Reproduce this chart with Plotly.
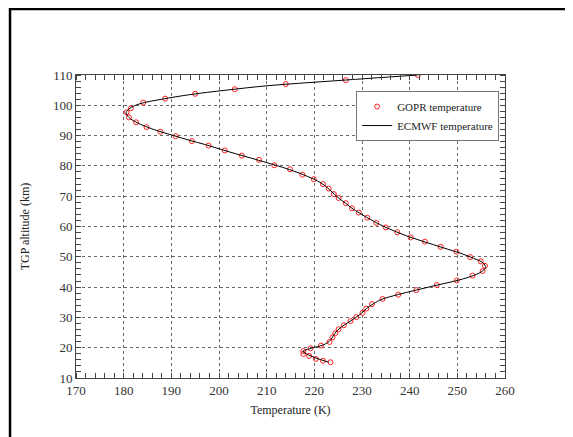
import plotly.graph_objects as go

# GOPR retrieved temperature profile
gopr_alt = [15.2, 15.7, 16.3, 17.3, 17.9, 18.9, 19.8, 20.7, 21.9, 23.4, 24.8, 26.1, 27.4, 28.8,
            30.1, 31.5, 32.9, 34.4, 36.1, 37.5, 39.0, 40.7, 42.2, 43.8, 45.3, 47.0, 48.5, 49.9,
            51.7, 53.3, 55.0, 56.4, 58.1, 59.7, 61.2, 62.9, 64.6, 66.0, 67.7, 69.4, 70.7, 72.5,
            74.0, 75.6, 77.1, 78.9, 80.2, 82.0, 83.4, 85.1, 86.7, 88.2, 89.8, 91.3, 92.8, 94.4,
            96.0, 97.7, 99.0, 100.9, 102.2, 103.8, 105.3, 107.0, 108.3, 110.0]
gopr_temp = [223.4, 221.8, 220.3, 218.9, 217.7, 217.7, 219.2, 221.4, 223.2, 223.8, 224.4, 225.1,
             226.2, 227.6, 228.8, 230.1, 230.9, 232.1, 234.3, 237.6, 241.4, 245.7, 249.9, 253.2,
             255.3, 255.8, 254.9, 252.7, 249.8, 246.5, 243.2, 240.2, 237.4, 235.0, 233.0, 231.1,
             229.3, 227.9, 226.6, 225.1, 224.1, 223.0, 221.8, 219.9, 217.5, 214.9, 211.6, 208.4,
             204.8, 201.2, 197.8, 194.3, 190.9, 187.7, 184.8, 182.6, 181.1, 180.6, 181.5, 184.1,
             188.7, 195.0, 203.3, 214.0, 226.6, 241.7]

# ECMWF temperature profile
ecmwf_alt = [15.2, 16.5, 18.0, 18.8, 19.8, 21.0, 22.5, 24.0, 25.5, 27.0, 28.5, 30.0, 31.5, 33.0,
             34.5, 36.0, 37.5, 39.0, 40.5, 42.0, 43.5, 45.0, 46.5, 48.0, 49.5, 51.0, 52.5, 54.0,
             55.5, 57.0, 58.5, 60.0, 61.5, 63.0, 64.5, 66.0, 67.5, 69.0, 70.5, 72.0, 73.5, 75.0,
             76.5, 78.0, 79.5, 81.0, 82.5, 84.0, 85.5, 87.0, 88.5, 90.0, 91.5, 93.0, 94.5, 96.0,
             97.5, 99.0, 100.5, 102.0, 103.5, 105.0, 106.5, 108.0, 110.0]
ecmwf_temp = [223.0, 220.5, 218.3, 217.6, 219.3, 222.0, 223.4, 224.0, 224.7, 225.8, 227.3, 228.7,
              230.0, 231.0, 232.4, 234.2, 237.5, 241.3, 245.3, 249.5, 252.8, 255.0, 255.9, 255.4,
              253.4, 251.0, 248.0, 245.0, 242.0, 239.2, 236.8, 234.6, 232.7, 231.0, 229.4, 227.9,
              226.7, 225.4, 224.3, 223.3, 222.2, 220.7, 218.6, 216.2, 213.4, 210.2, 206.9, 203.5,
              200.3, 197.2, 193.7, 190.5, 187.3, 184.6, 182.5, 181.1, 180.5, 181.3, 183.4, 188.0,
              193.8, 201.5, 210.5, 223.5, 241.7]

x_ticks = [170, 180, 190, 200, 210, 220, 230, 240, 250, 260]
y_ticks = [10, 20, 30, 40, 50, 60, 70, 80, 90, 100, 110]

FONT = "Liberation Serif, Times New Roman, serif"

fig = go.Figure()
fig.add_trace(go.Scatter(
    x=gopr_temp, y=gopr_alt, mode="markers", name="GOPR temperature",
    marker=dict(symbol="circle-open", size=5, color="#ff2020", line=dict(width=1, color="#ff2020")),
    cliponaxis=True,
))
fig.add_trace(go.Scatter(
    x=ecmwf_temp, y=ecmwf_alt, mode="lines", name="ECMWF temperature",
    line=dict(color="black", width=1), line_shape="spline",
))

axis_common = dict(
    showline=True, linecolor="#444", linewidth=1, mirror="allticks",
    ticks="", showgrid=True, gridcolor="#666", griddash="dot", gridwidth=1,
    zeroline=False, automargin=False, tickfont=dict(family=FONT, size=13, color="#333"),
    minor=dict(ticks="inside", ticklen=5, tickcolor="#444", tickwidth=1, showgrid=False),
)

fig.update_xaxes(range=[170, 260], tickvals=x_ticks, minor_dtick=2,
                 title=dict(text="Temperature (K)", font=dict(family=FONT, size=12, color="#222"), standoff=9),
                 **axis_common)
fig.update_yaxes(range=[10, 110], tickvals=y_ticks, minor_dtick=2,
                 title=dict(text="TGP altitude (km)", font=dict(family=FONT, size=12, color="#222"), standoff=20),
                 **axis_common)

fig.update_layout(
    width=573, height=437,
    margin=dict(l=68, r=76, t=67, b=67),
    paper_bgcolor="white", plot_bgcolor="white",
    showlegend=True,
    legend=dict(x=0.653, y=0.947, xanchor="left", yanchor="top",
                bordercolor="#777", borderwidth=1, bgcolor="white",
                font=dict(family=FONT, size=11, color="#222"),
                tracegroupgap=0, itemwidth=30),
    shapes=[dict(type="rect", xref="paper", yref="paper",
                 x0=-0.1538, x1=1.4, y0=-0.4, y1=1.218,
                 line=dict(color="black", width=2.5), layer="above")],
)

fig.write_html("out.html")
